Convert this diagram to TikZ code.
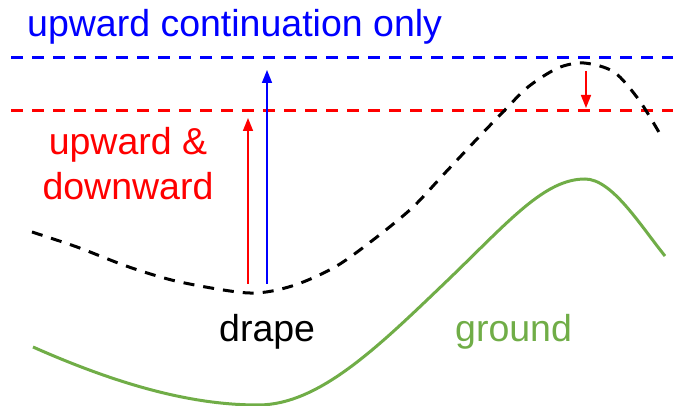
\documentclass[tikz,border=0pt]{standalone}
\usepackage{fontspec}
\setmainfont{Liberation Sans}
\definecolor{groundgreen}{RGB}{112,173,71}
\usetikzlibrary{arrows.meta}

\begin{document}
\begin{tikzpicture}[x=1pt,y=-1pt,
  lbl/.style={inner sep=0pt,font=\fontsize{37.5}{45}\selectfont,align=center},
  level/.style={dash pattern=on 12pt off 9pt,line width=3pt},
  surf/.style={line width=3pt},
  arr/.style={-{Triangle[length=13pt,width=10pt]},line width=1.6pt}
]
  \useasboundingbox (0,0) rectangle (673,406);
  % continuation levels
  \coordinate (bluel) at (11,58);  \coordinate (bluer) at (673,58);
  \coordinate (redl)  at (11,111); \coordinate (redr)  at (673,111);
  \draw[level,blue] (bluel) -- (bluer);
  \draw[level,red]  (redl) -- (redr);
  % drape surface
  \draw[surf,dash pattern=on 11pt off 9pt] plot[smooth] coordinates {
    (32,232) (77,247) (129,267) (180,282) (249,293) (292,286) (335,267)
    (373,240) (412,208) (444,174) (476,140) (502,113) (528,87) (558,68)
    (584,63) (614,72) (639,100) (660,134)};
  % ground surface
  \draw[surf,groundgreen] (33,347) .. controls (130,390) and (200,405) .. (258,405)
    .. controls (320,405) and (380,345) .. (450,278)
    .. controls (510,220) and (545,179) .. (585,179)
    .. controls (612,179) and (640,225) .. (665,256);
  % arrows
  \coordinate (redup0) at (248,284);  \coordinate (redup1) at (248,118);
  \coordinate (blueup0) at (267,284); \coordinate (blueup1) at (267,70);
  \coordinate (reddn0) at (586,71);   \coordinate (reddn1) at (586,108);
  \draw[arr,red]  (redup0) -- (redup1);
  \draw[arr,blue] (blueup0) -- (blueup1);
  \draw[arr,red]  (reddn0) -- (reddn1);
  % labels
  \node[lbl,text=blue,anchor=base west] (uconly) at (27,37) {upward continuation only};
  \node[lbl,text=red,anchor=base] (updown) at (128,200) {upward \&\\downward};
  \node[lbl,anchor=base west] (drape) at (219,342) {drape};
  \node[lbl,text=groundgreen,anchor=base west] (ground) at (455,342) {ground};
\end{tikzpicture}
\end{document}
